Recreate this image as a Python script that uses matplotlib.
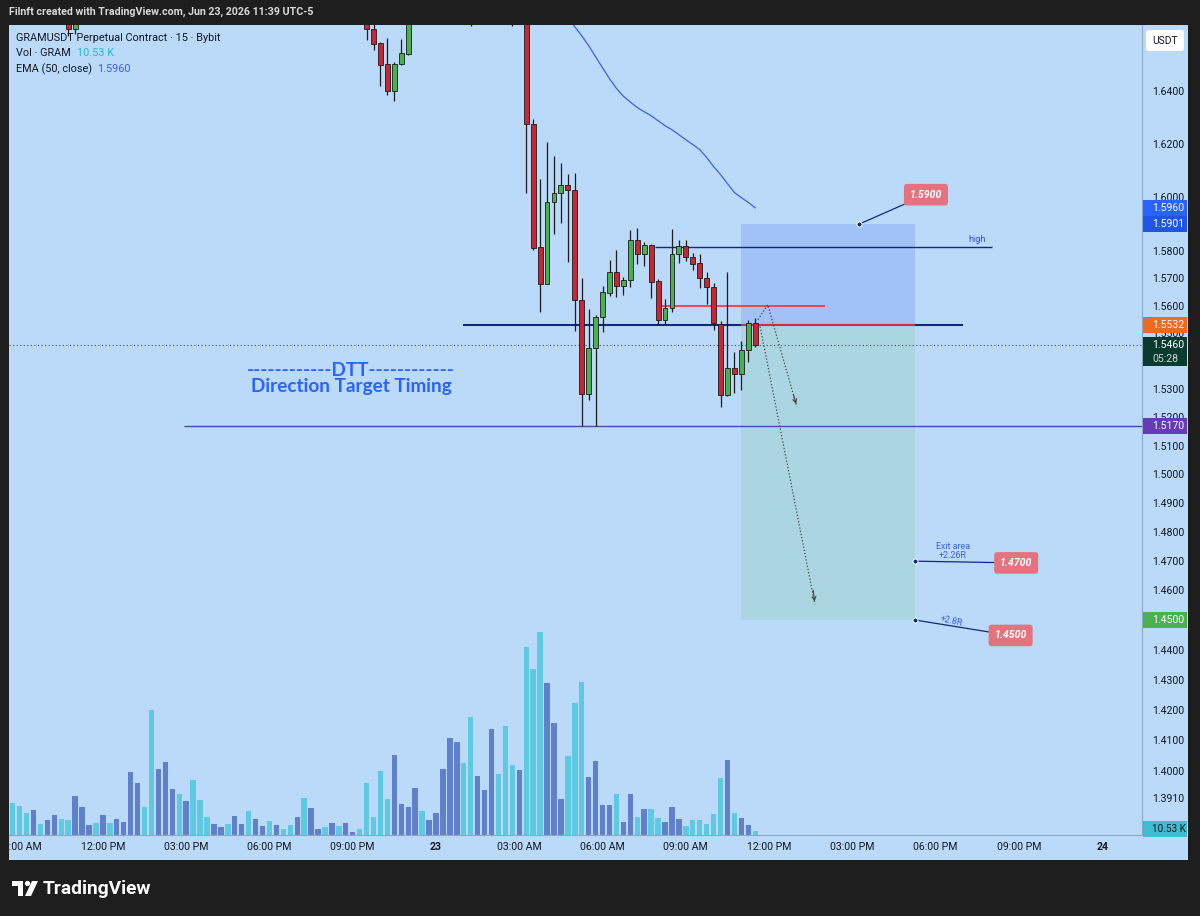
import numpy as np
import matplotlib.pyplot as plt
from matplotlib.patches import Rectangle, Polygon, Circle, FancyBboxPatch
from matplotlib.ticker import NullLocator
from matplotlib.transforms import Bbox

plt.rcParams['font.family'] = ['Roboto', 'DejaVu Sans']

# 15 minute bars, index 0 = Jun 23 00:00 (candles above the visible window are left out)
candle_idx = [-53, -52] + list(range(-10, 47))
opens = [1.6710, 1.6639,
         1.6720, 1.6638, 1.6586, 1.6503, 1.6399, 1.6505, 1.6543,
         1.6720, 1.6800, 1.6750, 1.6820, 1.6900, 1.7000, 1.7120, 1.7220, 1.7060, 1.6880,
         1.6980, 1.7040, 1.7160, 1.7060, 1.6900, 1.6800, 1.6880,
         1.6276, 1.5816, 1.5680, 1.5983, 1.6015, 1.6044, 1.6028, 1.5620, 1.5285, 1.5446,
         1.5560, 1.5647, 1.5722, 1.5671, 1.5693, 1.5842, 1.5791, 1.5821, 1.5689, 1.5548,
         1.5593, 1.5790, 1.5818, 1.5779, 1.5758, 1.5703, 1.5670, 1.5536, 1.5278, 1.5376,
         1.5356, 1.5442, 1.5538]
highs = [1.6750, 1.6760,
         1.6760, 1.6670, 1.6590, 1.6603, 1.6510, 1.6600, 1.6750,
         1.6840, 1.6860, 1.6860, 1.6940, 1.7060, 1.7200, 1.7300, 1.7280, 1.7120, 1.7030,
         1.7090, 1.7240, 1.7200, 1.7100, 1.6960, 1.6940, 1.6900,
         1.6294, 1.6068, 1.6205, 1.6155, 1.6128, 1.6088, 1.6090, 1.5702, 1.5589, 1.5568,
         1.5674, 1.5769, 1.5803, 1.5706, 1.5879, 1.5886, 1.5833, 1.5828, 1.5698, 1.5625,
         1.5883, 1.5842, 1.5842, 1.5795, 1.5791, 1.5724, 1.5685, 1.5546, 1.5725, 1.5434,
         1.5472, 1.5548, 1.5556]
lows = [1.6612, 1.6620,
        1.6597, 1.6556, 1.6420, 1.6386, 1.6361, 1.6500, 1.6540,
        1.6690, 1.6720, 1.6730, 1.6790, 1.6860, 1.6960, 1.7050, 1.7000, 1.6650, 1.6840,
        1.6930, 1.7000, 1.7000, 1.6850, 1.6650, 1.6760, 1.6016,
        1.5806, 1.5578, 1.5678, 1.5864, 1.5902, 1.5759, 1.5508, 1.5171, 1.5263, 1.5171,
        1.5504, 1.5635, 1.5632, 1.5638, 1.5669, 1.5751, 1.5745, 1.5629, 1.5532, 1.5529,
        1.5577, 1.5757, 1.5765, 1.5732, 1.5666, 1.5605, 1.5514, 1.5237, 1.5275, 1.5287,
        1.5299, 1.5398, 1.5451]
closes = [1.6639, 1.6720,
          1.6638, 1.6581, 1.6501, 1.6399, 1.6505, 1.6546, 1.6720,
          1.6800, 1.6750, 1.6820, 1.6900, 1.7000, 1.7120, 1.7220, 1.7060, 1.6880, 1.6980,
          1.7040, 1.7160, 1.7060, 1.6900, 1.6800, 1.6880, 1.6276,
          1.5812, 1.5681, 1.5983, 1.6014, 1.6044, 1.6028, 1.5620, 1.5285, 1.5448, 1.5560,
          1.5649, 1.5722, 1.5671, 1.5693, 1.5842, 1.5791, 1.5821, 1.5687, 1.5548, 1.5593,
          1.5790, 1.5818, 1.5779, 1.5754, 1.5703, 1.5670, 1.5539, 1.5278, 1.5376, 1.5356,
          1.5442, 1.5538, 1.5460]

# volume in thousands GRAM, u = up bar, d = down bar
vol_idx = list(range(-61, 47))
volume_k = [84.2, 77.1, 57.9, 65.0, 28.9, 38.7, 52.6, 42.9, 38.7, 103.4,
            74.4, 27.1, 31.6, 52.6, 31.6, 41.3, 34.2, 165.7, 136.8, 74.4,
            328.0, 174.4, 192.0, 120.2, 107.8, 89.4, 144.7, 91.3, 46.6, 28.9,
            21.8, 28.9, 50.8, 28.9, 63.1, 41.3, 24.5, 36.0, 27.1, 16.6,
            27.1, 48.1, 98.1, 70.2, 15.0, 21.8, 31.6, 24.5, 31.6, 7.1,
            16.6, 136.8, 46.6, 168.3, 95.5, 210.4, 81.5, 72.9, 122.8,
            62.3, 40.2, 57.9, 173.6, 255.9, 243.8, 189.4, 310.3, 155.2, 117.6,
            279.6, 161.2, 287.5, 184.9, 170.2, 494.4, 435.8, 533.1, 399.8, 294.6,
            94.7, 208.6, 347.2, 401.6, 152.5, 193.8, 78.9, 78.9, 107.8, 34.2,
            107.8, 47.3, 67.6, 68.4, 43.9, 34.2, 73.6, 42.9, 24.5, 38.7,
            38.7, 28.9, 54.4, 150.7, 196.5, 57.9, 43.9, 27.1, 10.53]
vol_dir = list("ddduduuddu" "uududuuuud" "duuududddu" "uduuduudud" "duduududuu" "ddddduuuu"
               "duuuuudduu" "uddduddduu" "uddduuuudu" "ududduuudd" "dddduduud")

ema_idx = list(range(19, 47))
ema_vals = [1.6685, 1.6647, 1.6612, 1.6574, 1.6531, 1.6489, 1.6447, 1.6410, 1.6380, 1.6358,
            1.6337, 1.6321, 1.6306, 1.6287, 1.6268, 1.6253, 1.6234, 1.6215, 1.6197, 1.6178,
            1.6148, 1.6114, 1.6084, 1.6050, 1.6017, 1.5998, 1.5980, 1.5960]

last_price = 1.5460
entry = 1.5532
stop = 1.5901
target = 1.4500
day_low = 1.5170
red_level = 1.5600
high_level = 1.5814
note_high = 1.5900
exit_1 = 1.4700
exit_2 = 1.4500
last_volume_k = 10.53

time_ticks = [-60, -48, -36, -24, -12, 0, 12, 24, 36, 48, 60, 72, 84, 96]
time_labels = ["09:00 AM", "12:00 PM", "03:00 PM", "06:00 PM", "09:00 PM", "23", "03:00 AM",
               "06:00 AM", "09:00 AM", "12:00 PM", "03:00 PM", "06:00 PM", "09:00 PM", "24"]
price_ticks = [1.3910, 1.40, 1.41, 1.42, 1.43, 1.44, 1.45, 1.46, 1.47, 1.48, 1.49, 1.50,
               1.51, 1.52, 1.53, 1.54, 1.55, 1.56, 1.57, 1.58, 1.59, 1.60, 1.62, 1.64]

BG = '#bbd9f8'
DARK = '#1e1e1e'
TXT = '#131722'
UP = '#4caf50'
DOWN = '#c62832'
VOL_UP = '#6080cc'
VOL_DOWN = '#5ec9e2'
NAVY = '#0e2b78'

fig = plt.figure(figsize=(12, 9.16), dpi=100, facecolor=DARK)
W, H = 1200, 916
fig.patches.append(Rectangle((9 / W, 56 / H), 1179 / W, 835 / H, transform=fig.transFigure,
                             fc=BG, ec='none', zorder=-5))

ax = fig.add_axes([9 / W, 81 / H, 1133 / W, 810 / H])
vax = ax.twinx()
vax.set_zorder(ax.get_zorder() - 1)
ax.patch.set_visible(False)
vax.patch.set_visible(False)

# volume
vcol = [VOL_UP if d == 'u' else VOL_DOWN for d in vol_dir]
vax.bar(vol_idx, volume_k, width=0.78, color=vcol, linewidth=0)
vax.set_ylim(0, 2130)
vax.yaxis.set_visible(False)
for s in vax.spines.values():
    s.set_visible(False)

# position tool
ax.add_patch(Rectangle((44, entry), 25, stop - entry, fc='#a0c2f6', ec='none', zorder=1))
ax.add_patch(Rectangle((44, target), 25, entry - target, fc='#acd5e2', ec='none', zorder=1))

# levels
ax.hlines(high_level, 31.6, 80.1, color=NAVY, lw=1.0, zorder=2)
ax.text(78, high_level + 0.0012, "high", color='#3551c9', fontsize=6.6, ha='center', va='bottom')
ax.hlines(day_low, -36.3, 110, color='#4f46a8', lw=1.0, zorder=2)
ax.hlines(entry, 3.9, 75.9, color=NAVY, lw=1.5, zorder=2)
ax.hlines(entry, 44, 69, color='#e53935', lw=1.2, zorder=2)
ax.hlines(red_level, 32.3, 56, color='#e53935', lw=1.2, zorder=2)
ax.axhline(last_price, color='#4a5262', lw=0.8, ls=(0, (1, 2.2)), zorder=2)

# candles
o, h, l, c = map(np.array, (opens, highs, lows, closes))
ccol = np.where(c >= o, UP, DOWN)
ax.vlines(candle_idx, l, h, color='#1c1c1c', lw=0.9, zorder=3)
ax.bar(candle_idx, np.maximum(np.abs(c - o), 0.0003), bottom=np.minimum(o, c), width=0.7,
       color=ccol, edgecolor='#1c1c1c', linewidth=0.6, zorder=4)

# ema
ax.plot(ema_idx, ema_vals, color='#3a62e0', lw=0.9, zorder=3)

# projected paths
dots = dict(color='#454545', lw=0.9, ls=(0, (1, 1.6)), zorder=5)
ax.plot([46.4, 47.8, 52.0], [1.5550, 1.5604, 1.5238], **dots)
ax.plot([46.7, 54.6], [1.5525, 1.4553], **dots)
ax.annotate('', xy=(52.0, 1.5238), xytext=(51.4, 1.5290),
            arrowprops=dict(arrowstyle='->', color='#454545', lw=0.8, mutation_scale=7))
ax.annotate('', xy=(54.6, 1.4553), xytext=(54.3, 1.4610),
            arrowprops=dict(arrowstyle='->', color='#454545', lw=0.8, mutation_scale=7))

# DTT label
ax.text(-12.25, 1.5338, "------------DTT------------\nDirection Target Timing", color='#2962ff',
        family='Lato', fontweight='bold', fontsize=13.6, ha='center', va='center',
        linespacing=0.95, zorder=6)

# callouts
pink = dict(boxstyle='round,pad=0.55,rounding_size=0.3', fc='#e5737f', ec='none')
for xy, xt, txt in [((61, note_high), (70.6, 1.6009), "1.5900"),
                    ((69, exit_1), (83.6, 1.4694), "1.4700"),
                    ((69, exit_2), (82.8, 1.4448), "1.4500")]:
    ax.annotate(txt, xy=xy, xytext=xt, color='white', fontsize=7.6, fontweight='bold',
                fontstyle='italic', ha='center', va='center', bbox=pink, zorder=7,
                arrowprops=dict(arrowstyle='-', color=NAVY, lw=0.9, shrinkA=0, shrinkB=0))
    ax.plot(*xy, 'o', ms=3.6, mfc=NAVY, mec='white', mew=0.7, zorder=8)
ax.text(74.5, 1.4735, "Exit area\n+2.26R", color='#3a62e0', fontsize=6.4, ha='center',
        va='center', linespacing=1.0, zorder=7)
ax.text(74.3, 1.4497, "+2.8R", color='#3a62e0', fontsize=6.4, ha='center', va='center',
        rotation=-13, zorder=7)

# axes
ax.set_yscale('log')
ax.set_xlim(-61.53, 101.73)
ax.set_ylim(1.37922, 1.66540)
ax.yaxis.tick_right()
ax.set_yticks(price_ticks, labels=[f"{p:.4f}" for p in price_ticks])
ax.yaxis.set_minor_locator(NullLocator())
ax.set_xticks(time_ticks, labels=time_labels)
ax.tick_params(axis='y', length=0, pad=7.2, labelsize=7.6, labelcolor=TXT)
ax.tick_params(axis='x', length=0, pad=5, labelsize=7.6, labelcolor=TXT)
for side in ('top', 'left'):
    ax.spines[side].set_visible(False)
for side in ('right', 'bottom'):
    ax.spines[side].set_color('#8da6c3')
    ax.spines[side].set_linewidth(0.8)

fig.canvas.draw()
clip = Bbox.from_extents(9, 0, 1188, 916)
for lab in ax.get_xticklabels():
    lab.set_clip_box(clip)
    lab.set_clip_on(True)
    if lab.get_text() in ("23", "24"):
        lab.set_fontweight('bold')

# overlay in pixel space for header, legend, scale labels and logo
lax = fig.add_axes([0, 0, 1, 1], zorder=10)
lax.set_xlim(0, W)
lax.set_ylim(H, 0)
lax.axis('off')
lax.patch.set_visible(False)


def row_of(axes, value):
    return H - axes.transData.transform((0, value))[1]


for price, txt, fc in [(ema_vals[-1], "1.5960", '#2962ff'), (stop, "1.5901", '#1f55e8'),
                       (entry, "1.5532", '#ef6a1c'), (day_low, "1.5170", '#673ab7'),
                       (target, "1.4500", '#4caf50')]:
    y = row_of(ax, price)
    lax.add_patch(Rectangle((1143, y - 8), 44, 16, fc=fc, ec='none'))
    lax.text(1152, y, txt, color='white', fontsize=7.6, va='center', ha='left')
y = row_of(ax, last_price)
lax.add_patch(Rectangle((1143, y - 8), 44, 29, fc='#0b3b2e', ec='none'))
lax.text(1152, y, "1.5460", color='white', fontsize=7.6, va='center', ha='left')
lax.text(1152, y + 14, "05:28", color='#c8d8cf', fontsize=7.6, va='center', ha='left')
y = row_of(vax, last_volume_k) - 2
lax.add_patch(Rectangle((1143, y - 8), 44, 16, fc='#3fbccf', ec='none'))
lax.text(1152, y, "10.53 K", color=TXT, fontsize=7.2, va='center', ha='left')

lax.text(9, 12, "Filnft created with TradingView.com, Jun 23, 2026 11:39 UTC-5", color='#d8d8d8',
         fontsize=7.7, fontweight='bold', va='center', ha='left')
lax.text(16, 38, "GRAMUSDT Perpetual Contract · 15 · Bybit", color=TXT, fontsize=7.8, va='center')
lax.text(16, 53, "Vol · GRAM", color=TXT, fontsize=7.8, va='center')
lax.text(77, 53, "10.53 K", color='#27b6d6', fontsize=7.8, va='center')
lax.text(16, 69, "EMA (50, close)", color=TXT, fontsize=7.8, va='center')
lax.text(97, 69, "1.5960", color='#3a62e0', fontsize=7.8, va='center')
lax.add_patch(FancyBboxPatch((1146, 30), 38, 21, boxstyle='round,pad=0,rounding_size=3',
                             fc='white', ec='none'))
lax.text(1165, 40.5, "USDT", color=TXT, fontsize=7.4, ha='center', va='center')
# TradingView logo
lax.add_patch(Polygon([(12, 881), (23, 881), (23, 896), (18, 896), (18, 886), (12, 886)],
                      fc='white', ec='none'))
lax.add_patch(Circle((27.5, 883.5), 2.6, fc='white', ec='none'))
lax.add_patch(Polygon([(25, 896), (31, 896), (38, 881), (32, 881)], fc='white', ec='none'))
lax.text(43, 888.5, "TradingView", color='white', fontsize=13.8, fontweight='bold',
         va='center', ha='left')

fig.savefig("out.png", dpi=100, facecolor=DARK)
